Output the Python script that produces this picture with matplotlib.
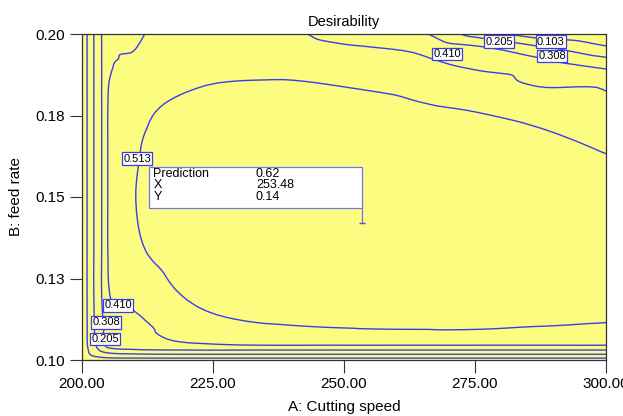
import numpy as np
import matplotlib.pyplot as plt
import matplotlib.tri as mtri
from matplotlib.patches import Rectangle

plt.rcParams['font.family'] = ['Liberation Sans', 'DejaVu Sans']

# desirability surface, values
speed = [200, 201, 202.3, 203.8, 205, 210, 220, 235, 250, 265, 275, 287, 300]
feed = [0.100, 0.1006, 0.1018, 0.1031, 0.1046, 0.110, 0.120, 0.135, 0.150,
        0.165, 0.175, 0.185, 0.190, 0.195, 0.200]
desir = [
    [0, 0, 0, 0, 0, 0, 0, 0, 0, 0, 0, 0, 0],
    [0, 0.05, 0.07, 0.085, 0.095, 0.104, 0.106, 0.106, 0.106, 0.106, 0.106, 0.106, 0.106],
    [0, 0.08, 0.13, 0.16, 0.18, 0.20, 0.208, 0.208, 0.208, 0.208, 0.208, 0.208, 0.208],
    [0, 0.09, 0.16, 0.23, 0.27, 0.30, 0.311, 0.311, 0.311, 0.311, 0.311, 0.311, 0.311],
    [0, 0.10, 0.185, 0.27, 0.34, 0.37, 0.39, 0.413, 0.413, 0.413, 0.413, 0.413, 0.413],
    [0, 0.104, 0.20, 0.29, 0.33, 0.38, 0.46, 0.50, 0.515, 0.52, 0.52, 0.51, 0.50],
    [0, 0.106, 0.208, 0.311, 0.40, 0.44, 0.52, 0.575, 0.575, 0.57, 0.565, 0.555, 0.545],
    [0, 0.106, 0.208, 0.311, 0.415, 0.495, 0.565, 0.61, 0.61, 0.605, 0.595, 0.585, 0.575],
    [0, 0.106, 0.208, 0.311, 0.415, 0.51, 0.575, 0.615, 0.62, 0.615, 0.60, 0.58, 0.56],
    [0, 0.106, 0.208, 0.311, 0.415, 0.50, 0.565, 0.60, 0.60, 0.59, 0.575, 0.545, 0.505],
    [0, 0.106, 0.208, 0.311, 0.415, 0.485, 0.545, 0.575, 0.565, 0.535, 0.52, 0.49, 0.43],
    [0, 0.106, 0.208, 0.311, 0.405, 0.455, 0.50, 0.52, 0.505, 0.475, 0.45, 0.40, 0.39],
    [0, 0.106, 0.208, 0.311, 0.385, 0.435, 0.48, 0.48, 0.47, 0.43, 0.40, 0.36, 0.29],
    [0, 0.106, 0.208, 0.311, 0.37, 0.41, 0.47, 0.465, 0.43, 0.395, 0.35, 0.25, 0.14],
    [0, 0.106, 0.208, 0.311, 0.355, 0.395, 0.46, 0.45, 0.375, 0.32, 0.17, 0.05, 0],
]
levels = [0.103, 0.205, 0.308, 0.410, 0.513]

# where the level tags sit
tag_spots = [(0.513, 210.5, 0.1618), (0.410, 206.9, 0.1168), (0.308, 204.6, 0.1116),
             (0.205, 204.4, 0.1064), (0.410, 269.7, 0.1939), (0.205, 279.6, 0.1976),
             (0.103, 289.5, 0.1976), (0.308, 289.7, 0.1933)]

pred_x, pred_y, pred_val = 253.48, 0.142, 0.62

x_ticks = [200, 225, 250, 275, 300]
y_ticks = [0.100, 0.125, 0.150, 0.175, 0.200]
y_ticklabels = ["0.10", "0.13", "0.15", "0.18", "0.20"]

LINE = '#3c3cec'

# smooth the read grid with matplotlib's cubic tri interpolation
# (work in a rescaled feed axis so the triangles are not squashed)
AA, BB = np.meshgrid(speed, feed)
ZZ = np.array(desir)
tri = mtri.Triangulation(AA.ravel(), BB.ravel() * 1000)
refiner = mtri.UniformTriRefiner(tri)
cubic = mtri.CubicTriInterpolator(tri, ZZ.ravel(), kind='geom')
tri_fine, z_fine = refiner.refine_field(ZZ.ravel(), triinterpolator=cubic, subdiv=3)
tri_plot = mtri.Triangulation(tri_fine.x, tri_fine.y / 1000, tri_fine.triangles)

fig = plt.figure(figsize=(6.23, 4.16), dpi=100)
ax = fig.add_axes([82 / 623, 1 - 360 / 416, 524 / 623, 326 / 416])
ax.set_facecolor('#fcfc80')

ax.tricontour(tri_plot, z_fine, levels=levels, colors=LINE, linewidths=1.0)

for lev, a, b in tag_spots:
    ax.text(a, b, f"{lev:.3f}", fontsize=8, ha='center', va='center', zorder=5,
            bbox=dict(boxstyle='square,pad=0.12', fc='white', ec=LINE, lw=0.9))

# prediction flag
bx0, bx1 = 212.8, pred_x
by0, by1 = 0.1465, 0.1593
ax.add_patch(Rectangle((bx0, by0), bx1 - bx0, by1 - by0, fc='white', ec='#7070f0',
                       lw=0.9, zorder=6))
ax.plot([pred_x, pred_x], [pred_y, by0], color='#7070f0', lw=0.9, zorder=6)
ax.plot([pred_x], [pred_y], marker='_', color='#5050e0', ms=4, zorder=6)
rows = [("Prediction", f"{pred_val:.2f}"), ("X", f"{pred_x:.2f}"), ("Y", f"{pred_y:.2f}")]
for i, (k, v) in enumerate(rows):
    yy = 0.1571 - i * 0.00355
    ax.text(213.6, yy, k, fontsize=9, va='center', zorder=7)
    ax.text(233.2, yy, v, fontsize=9, va='center', zorder=7)

ax.set_xlim(200, 300)
ax.set_ylim(0.10, 0.20)
ax.set_xticks(x_ticks)
ax.set_xticklabels([f"{v:.2f}" for v in x_ticks])
ax.set_yticks(y_ticks)
ax.set_yticklabels(y_ticklabels)
ax.tick_params(direction='out', length=9, width=0.8, labelsize=11, pad=3, color='#333333')
for s in ax.spines.values():
    s.set_color('#333333')
    s.set_linewidth(0.9)

ax.set_title("Desirability", fontsize=10.5, pad=6)
ax.set_xlabel("A: Cutting speed", fontsize=11, labelpad=7)
ax.set_ylabel("B: feed rate", fontsize=11, labelpad=9)

fig.savefig("out.png", dpi=100)
